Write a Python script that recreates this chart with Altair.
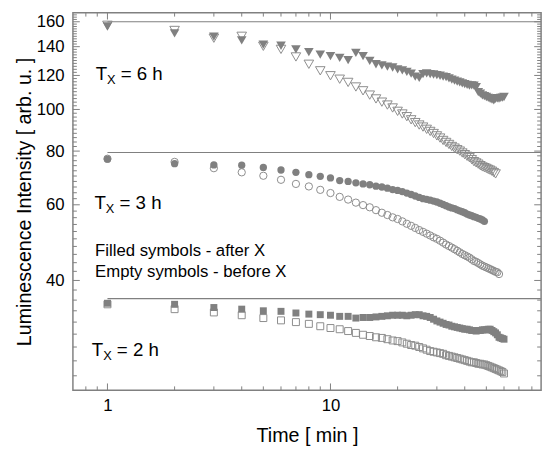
import altair as alt
import pandas as pd

# ---------------- data ----------------
minutes = list(range(1, 61))

# T_X = 6 h  (triangles)
tri_after = [156.0, 150.4, 147.8, 144.8, 141.5, 140.7, 138.0, 135.9, 134.2, 133.1,
             131.9, 130.3, 135.4, 133.1, 129.7, 127.4, 126.7, 125.8, 125.2, 124.0,
             123.3, 122.3, 121.2, 119.3, 118.4, 120.8, 121.3, 120.8, 120.6, 120.2,
             119.8, 119.3, 118.9, 118.1, 117.4, 116.7, 116.1, 115.6, 115.0, 114.6,
             114.1, 113.6, 113.8, 113.6, 112.7, 109.7, 108.8, 107.8, 107.4, 106.9,
             106.4, 105.9, 105.4, 105.0, 105.9, 106.2, 106.0, 106.4, 106.6, 106.9]
tri_before = [157.0, 152.7, 146.5, 148.0, 140.3, 138.0, 132.5, 127.4, 123.0, 119.8,
              117.6, 115.6, 112.8, 110.5, 108.0, 105.8, 104.0, 102.4, 100.8, 99.0,
              97.6, 96.2, 94.6, 93.2, 92.0, 91.0, 89.9, 88.9, 87.9, 86.8,
              85.8, 84.7, 83.8, 82.9, 82.0, 81.3, 80.6, 80.0, 79.2, 78.5,
              77.8, 77.2, 76.4, 75.6, 75.1, 74.6, 74.0, 73.5, 73.2, 72.9,
              72.5, 72.2, 71.8, 71.3, 70.8]

# T_X = 3 h  (circles)
circ_after = [76.6, 74.8, 74.3, 74.2, 73.3, 72.3, 71.4, 70.5, 69.9, 69.3,
              68.3, 68.0, 67.5, 67.1, 66.8, 66.3, 66.0, 65.6, 65.1, 64.8,
              64.4, 63.9, 63.4, 62.9, 62.4, 62.0, 61.8, 61.5, 61.2, 60.9,
              60.5, 60.1, 59.7, 59.3, 59.0, 58.8, 58.4, 58.1, 57.8, 57.5,
              57.1, 56.8, 56.6, 56.3, 56.1, 55.8, 55.6, 55.3, 54.9]
circ_before = [76.8, 75.5, 73.0, 71.4, 70.1, 68.6, 67.1, 66.2, 65.0, 63.9,
               62.6, 61.7, 60.7, 59.9, 59.2, 58.3, 57.5, 56.8, 56.1, 55.6,
               54.9, 54.2, 53.6, 53.0, 52.4, 51.9, 51.4, 50.9, 50.4, 50.0,
               49.5, 49.0, 48.5, 48.1, 47.7, 47.3, 46.9, 46.5, 46.1, 45.8,
               45.5, 45.2, 44.8, 44.4, 44.2, 43.9, 43.6, 43.3, 43.1, 42.9,
               42.7, 42.5, 42.3, 42.1, 41.9, 41.8, 41.4]

# T_X = 2 h  (squares)
sq_after = [35.4, 35.2, 34.6, 34.3, 34.0, 33.9, 33.6, 33.4, 33.3, 33.2,
            33.0, 33.0, 32.7, 32.8, 32.8, 32.9, 33.0, 33.1, 33.2, 33.2,
            33.2, 33.1, 33.2, 33.3, 33.3, 33.1, 33.0, 32.8, 32.5, 32.2,
            32.0, 31.8, 31.6, 31.5, 31.3, 31.2, 31.1, 31.0, 30.9, 30.8,
            30.8, 30.7, 30.6, 30.6, 30.5, 30.6, 30.6, 30.7, 30.7, 30.7,
            30.8, 30.8, 30.6, 30.4, 30.2, 29.9, 29.5, 29.4, 29.3, 29.2]
sq_before = [35.2, 34.3, 33.7, 33.2, 32.7, 32.3, 32.0, 31.7, 31.3, 31.0,
             30.8, 30.5, 30.2, 29.9, 29.7, 29.5, 29.4, 29.2, 29.0, 28.9,
             28.7, 28.5, 28.3, 28.2, 28.0, 27.8, 27.6, 27.4, 27.3, 27.2,
             27.1, 27.0, 26.8, 26.7, 26.6, 26.5, 26.4, 26.3, 26.2, 26.1,
             26.0, 25.9, 25.8, 25.8, 25.7, 25.6, 25.6, 25.5, 25.5, 25.4,
             25.3, 25.2, 25.1, 25.0, 24.9, 24.8, 24.7, 24.6, 24.5, 24.3]

# horizontal reference levels
ref_levels = [160.0, 79.4, 36.3]
ref_start = [1.0, 1.0, 1.0]
ref_end = [88.0, 88.0, 88.0]

# annotations
ann_t = [0.885, 0.874, 0.850]
ann_v = [117.2, 58.8, 26.7]
ann_rest = ["= 6 h", "= 3 h", "= 2 h"]

note_t = [0.880, 0.880]
note_v = [45.6, 40.85]
note_text = ["Filled symbols - after X", "Empty symbols - before X"]

# axis ticks
x_major = [1, 10]
x_minor = [0.8, 0.9, 2, 3, 4, 5, 6, 7, 8, 9, 20, 30, 40, 50, 60, 70, 80]
y_major = [40, 60, 80, 100, 120, 140, 160]
y_minor = [v for v in range(24, 167, 2) if v not in y_major]

# ---------------- chart ----------------
W, H = 476, 384
FONT = "Liberation Sans"
FILL = "#808080"
EMPTY = "#8c8c8c"
INK = "#000000"
LINE = "#808080"
MAJ, MIN = 7, 4

xs = alt.Scale(type="log", domain=[0.7, 88], nice=False)
ys = alt.Scale(type="log", domain=[22.2, 168], nice=False)

x_axis = alt.Axis(values=x_major, format="d", ticks=False, domain=False, grid=False,
                  labelFont=FONT, labelFontSize=17, labelColor=INK, labelPadding=7,
                  labelOverlap=False, title="Time [ min ]", titleFont=FONT,
                  titleFontSize=20, titleFontWeight="normal", titleColor=INK,
                  titlePadding=13)
y_axis = alt.Axis(values=y_major, format="d", ticks=False, domain=False, grid=False,
                  labelFont=FONT, labelFontSize=17, labelColor=INK, labelPadding=9,
                  labelOverlap=False, title="Luminescence Intensity [ arb. u. ]",
                  titleFont=FONT, titleFontSize=20, titleFontWeight="normal",
                  titleColor=INK, titlePadding=2)


def X(field):
    return alt.X(field, scale=xs, axis=x_axis)


def Y(field):
    return alt.Y(field, scale=ys, axis=y_axis)


def sdf(vals):
    return pd.DataFrame({"t": minutes[:len(vals)], "v": vals})


def markers(vals, shape, size, filled):
    if filled:
        m = alt.Chart(sdf(vals)).mark_point(shape=shape, size=size, filled=True,
                                            color=FILL, opacity=1, strokeWidth=0)
    else:
        m = alt.Chart(sdf(vals)).mark_point(shape=shape, size=size, filled=False,
                                            color=EMPTY, opacity=1, strokeWidth=1)
    return m.encode(x=X("t:Q"), y=Y("v:Q"))


ref_df = pd.DataFrame({"x0": ref_start, "x1": ref_end, "v": ref_levels})
ref = alt.Chart(ref_df).mark_rule(color="#808080", strokeWidth=1.2).encode(
    x=X("x0:Q"), x2="x1:Q", y=Y("v:Q"))

ann_df = pd.DataFrame({"t": ann_t, "v": ann_v, "rest": ann_rest})
tT = alt.Chart(ann_df).mark_text(text="T", align="left", baseline="alphabetic",
                                 font=FONT, fontSize=19, color=INK).encode(
    x=X("t:Q"), y=Y("v:Q"))
tX = alt.Chart(ann_df).mark_text(text="X", align="left", baseline="alphabetic",
                                 font=FONT, fontSize=13, color=INK,
                                 dx=11.6, dy=4.5).encode(x=X("t:Q"), y=Y("v:Q"))
tR = alt.Chart(ann_df).mark_text(align="left", baseline="alphabetic",
                                 font=FONT, fontSize=19, color=INK,
                                 dx=25.5).encode(text="rest:N", x=X("t:Q"), y=Y("v:Q"))

note_df = pd.DataFrame({"t": note_t, "v": note_v, "label": note_text})
notes = alt.Chart(note_df).mark_text(align="left", baseline="alphabetic", font=FONT,
                                     fontSize=17, color=INK).encode(
    text="label:N", x=X("t:Q"), y=Y("v:Q"))

# inward ticks on all four sides, placed by the scales from the tick lists
xmaj_df = pd.DataFrame({"t": x_major})
xmin_df = pd.DataFrame({"t": x_minor})
ymaj_df = pd.DataFrame({"v": y_major})
ymin_df = pd.DataFrame({"v": y_minor})


def xticks(df, length):
    bottom = alt.Chart(df).mark_rule(color=LINE, strokeWidth=1).encode(
        x=X("t:Q"), y=alt.value(H), y2=alt.value(H - length))
    top = alt.Chart(df).mark_rule(color=LINE, strokeWidth=1).encode(
        x=X("t:Q"), y=alt.value(0), y2=alt.value(length))
    return [bottom, top]


def yticks(df, length):
    left = alt.Chart(df).mark_rule(color=LINE, strokeWidth=1).encode(
        y=Y("v:Q"), x=alt.value(0), x2=alt.value(length))
    right = alt.Chart(df).mark_rule(color=LINE, strokeWidth=1).encode(
        y=Y("v:Q"), x=alt.value(W), x2=alt.value(W - length))
    return [left, right]


tick_layers = (xticks(xmaj_df, MAJ) + xticks(xmin_df, MIN)
               + yticks(ymaj_df, MAJ) + yticks(ymin_df, MIN))

layers = [ref,
          markers(tri_before, "triangle-down", 95, False),
          markers(circ_before, "circle", 55, False),
          markers(sq_before, "square", 50, False),
          markers(tri_after, "triangle-down", 95, True),
          markers(circ_after, "circle", 55, True),
          markers(sq_after, "square", 50, True),
          tT, tX, tR, notes] + tick_layers

chart = alt.layer(*layers).properties(
    width=W, height=H,
    padding={"left": 6, "top": 0, "right": 5, "bottom": 5},
).configure_view(stroke=LINE, strokeWidth=1.5)

chart.save("out.html", embed_options={"renderer": "svg", "actions": False})
